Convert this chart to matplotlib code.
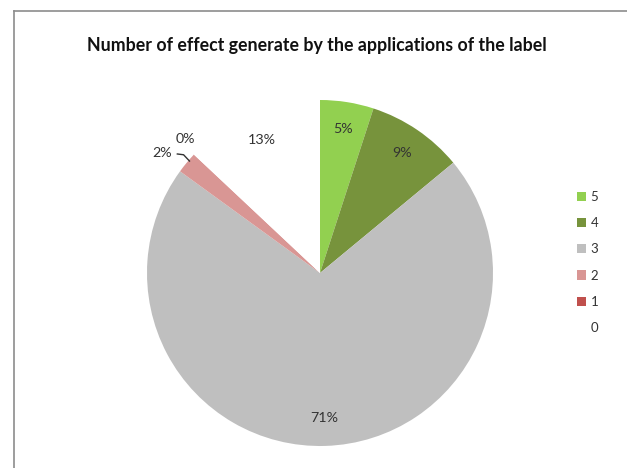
import numpy as np
import matplotlib
matplotlib.use("Agg")
import matplotlib.pyplot as plt
from matplotlib.lines import Line2D

plt.rcParams['font.family'] = ['Lato', 'DejaVu Sans']

title = "Number of effect generate by the applications of the label"
categories = ["5", "4", "3", "2", "1", "0"]
shares = [5, 9, 71, 2, 0, 13]
colors = ["#92D050", "#77933C", "#BFBFBF", "#D99694", "#C0504D", "#FFFFFF"]

W, H = 627, 468
fig = plt.figure(figsize=(W / 100, H / 100), dpi=100)

# pie centre and radius in pixels
cx, cy, R = 320, 273, 173
half = 185
ax = fig.add_axes([(cx - half) / W, (H - cy - half) / H, 2 * half / W, 2 * half / H])

wedges, _ = ax.pie(shares, colors=colors, startangle=90, counterclock=False,
                   radius=1, wedgeprops=dict(linewidth=0), frame=False)
lim = half / R
ax.set_xlim(-lim, lim)
ax.set_ylim(-lim, lim)
ax.set_aspect('equal')
ax.axis('off')

txt_kw = dict(fontsize=10.3, color="#333333", ha='center', va='center')


def polar(r, deg):
    a = np.deg2rad(deg)
    return r * np.cos(a), r * np.sin(a)


for w, v in zip(wedges, shares):
    mid = (w.theta1 + w.theta2) / 2
    if v >= 5:
        ax.text(*polar(0.84, mid), f"{v}%", **txt_kw)

# small slices are labelled outside the pie
w2, w1 = wedges[3], wedges[4]
m2 = (w2.theta1 + w2.theta2) / 2
m1 = (w1.theta1 + w1.theta2) / 2
lx, ly = polar(1.147, m2 + 2.4)
ax.text(lx, ly, f"{shares[3]}%", **txt_kw)
ex, ey = polar(0.99, m2 - 1.0)
ax.plot([lx + 0.085, lx + 0.125, ex], [ly - 0.005, ly - 0.01, ey],
        color='#333333', lw=1.0, solid_capstyle='butt')
ax.text(*polar(1.10, m1 - 1.6), f"{shares[4]}%", **txt_kw)

fig.text(317 / W, 1 - 45 / H, title, ha='center', va='center',
         fontsize=12.8, fontweight='bold', color='#111111')

# legend
handles = [plt.Rectangle((0, 0), 1, 1, facecolor=c, edgecolor='none') for c in colors]
fig.legend(handles, categories, loc='upper left',
           bbox_to_anchor=(565 / W, 1 - 179 / H), frameon=False,
           fontsize=9.5, handlelength=0.7, handleheight=0.7,
           handletextpad=0.35, labelspacing=1.08, labelcolor='#333333')

# chart area frame
frame_kw = dict(color='#8C8C8C', lw=1.2, transform=fig.transFigure)
fig.add_artist(Line2D([14 / W, 14 / W], [0, 1 - 11 / H], **frame_kw))
fig.add_artist(Line2D([14 / W, 1], [1 - 11 / H, 1 - 11 / H], **frame_kw))

fig.savefig("out.png", dpi=100)
